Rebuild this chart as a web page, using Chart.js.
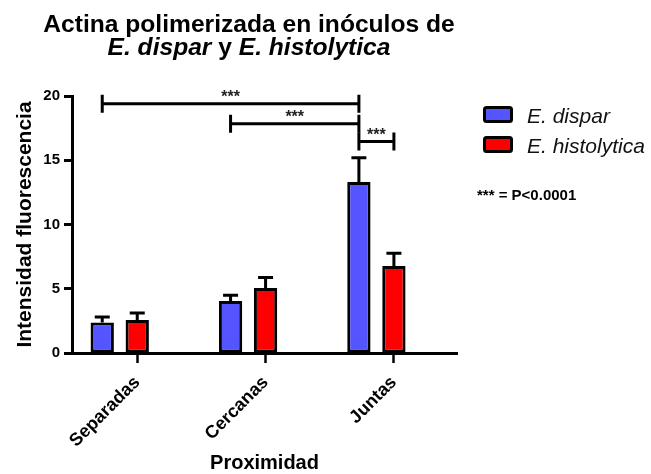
<!DOCTYPE html>
<html>
<head>
<meta charset="utf-8">
<script src="https://cdn.jsdelivr.net/npm/chart.js@4/dist/chart.umd.min.js"></script>
<style>
  html, body { margin: 0; padding: 0; background: #fff; }
  canvas { display: block; }
</style>
</head>
<body>
<canvas id="chart" width="651" height="474"></canvas>
<script>
// ---- data ----
const categories = ['Separadas', 'Cercanas', 'Juntas'];
const seriesNames = ['E. dispar', 'E. histolytica'];
const disparMean = [2.37, 4.05, 13.3];
const disparSem = [0.43, 0.44, 1.9];
const histolyticaMean = [2.57, 5.06, 6.77];
const histolyticaSem = [0.54, 0.81, 0.99];
const yTicks = [0, 5, 10, 15, 20];

// significance brackets: [category, series] at each end, height in y units
const bracketFrom = [[0, 0], [1, 0], [2, 0]];
const bracketTo = [[2, 0], [2, 0], [2, 1]];
const bracketLevel = [19.4, 17.85, 16.45];
const bracketLabel = ['***', '***', '***'];

const titleLine1 = 'Actina polimerizada en inóculos de';
const titleLine2 = [['E. dispar', true], [' y ', false], ['E. histolytica', true]];
const pNote = '*** = P<0.0001';
const yTitle = 'Intensidad fluorescencia';
const xTitle = 'Proximidad';

// ---- styling ----
const FONT = '"Liberation Sans", Arial, Helvetica, sans-serif';
const COLORS = ['#5555ff', '#ff0000'];
const sems = [disparSem, histolyticaSem];
const means = [disparMean, histolyticaMean];
const TICK_SHIFT = 0.136;   // category tick sits under the second bar of each group

Chart.defaults.font.family = FONT;
Chart.defaults.color = '#000';

// upward SEM whiskers on each bar
const errorBars = {
  id: 'errorBars',
  afterDatasetsDraw(chart) {
    const ctx = chart.ctx;
    const y = chart.scales.y;
    chart.data.datasets.forEach((ds, di) => {
      chart.getDatasetMeta(di).data.forEach((bar, i) => {
        const top = y.getPixelForValue(means[di][i] + sems[di][i]);
        ctx.save();
        ctx.strokeStyle = '#000';
        ctx.lineWidth = 3;
        ctx.beginPath();
        ctx.moveTo(bar.x, bar.y);
        ctx.lineTo(bar.x, top);
        ctx.moveTo(bar.x - 7.5, top);
        ctx.lineTo(bar.x + 7.5, top);
        ctx.stroke();
        ctx.restore();
      });
    });
  }
};

// significance brackets with their stars
const brackets = {
  id: 'brackets',
  afterDatasetsDraw(chart) {
    const ctx = chart.ctx;
    const y = chart.scales.y;
    ctx.save();
    ctx.strokeStyle = '#000';
    ctx.fillStyle = '#222';
    ctx.lineWidth = 3;
    bracketLevel.forEach((lvl, k) => {
      const [c0, s0] = bracketFrom[k];
      const [c1, s1] = bracketTo[k];
      const x0 = chart.getDatasetMeta(s0).data[c0].x;
      const x1 = chart.getDatasetMeta(s1).data[c1].x;
      const py = y.getPixelForValue(lvl);
      ctx.beginPath();
      ctx.moveTo(x0, py - 9); ctx.lineTo(x0, py + 9);
      ctx.moveTo(x1, py - 9); ctx.lineTo(x1, py + 9);
      ctx.moveTo(x0, py); ctx.lineTo(x1, py);
      ctx.stroke();
      ctx.font = 'bold 16px ' + FONT;
      ctx.textAlign = 'center';
      ctx.textBaseline = 'alphabetic';
      ctx.fillText(bracketLabel[k], (x0 + x1) / 2, py - 2);
    });
    ctx.restore();
  }
};

// series key to the right of the plot
const seriesKey = {
  id: 'seriesKey',
  afterDraw(chart) {
    const ctx = chart.ctx;
    ctx.save();
    chart.data.datasets.forEach((ds, i) => {
      const top = 107.5 + i * 30;
      ctx.beginPath();
      ctx.roundRect(484.5, top, 27, 14, 2);
      ctx.fillStyle = ds.backgroundColor;
      ctx.fill();
      ctx.lineWidth = 3;
      ctx.strokeStyle = '#000';
      ctx.stroke();
      ctx.fillStyle = '#111';
      ctx.font = 'italic 21px ' + FONT;
      ctx.textAlign = 'left';
      ctx.textBaseline = 'alphabetic';
      ctx.fillText(ds.label, 527, top + 15.5);
    });
    ctx.font = 'bold 15px ' + FONT;
    ctx.fillStyle = '#000';
    ctx.textBaseline = 'middle';
    ctx.fillText(pNote, 477, 196);
    ctx.restore();
  }
};

// two-line heading with the species names in italics
const heading = {
  id: 'heading',
  afterDraw(chart) {
    const ctx = chart.ctx;
    const cx = 249;
    ctx.save();
    ctx.fillStyle = '#000';
    ctx.textBaseline = 'alphabetic';
    ctx.font = 'bold 24.6px ' + FONT;
    ctx.textAlign = 'center';
    ctx.fillText(titleLine1, cx, 32);

    ctx.textAlign = 'left';
    const fontOf = it => (it ? 'italic ' : '') + 'bold 24.6px ' + FONT;
    let total = 0;
    titleLine2.forEach(([t, it]) => { ctx.font = fontOf(it); total += ctx.measureText(t).width; });
    let x = cx - total / 2;
    titleLine2.forEach(([t, it]) => {
      ctx.font = fontOf(it);
      ctx.fillText(t, x, 54.5);
      x += ctx.measureText(t).width;
    });
    ctx.restore();
  }
};

new Chart(document.getElementById('chart'), {
  type: 'bar',
  data: {
    datasets: seriesNames.map((name, di) => ({
      label: name,
      data: means[di].map((v, i) => ({ x: i, y: v })),
      backgroundColor: COLORS[di],
      borderColor: '#000',
      borderWidth: 3,
      borderSkipped: false,
      categoryPercentage: 0.5456,
      barPercentage: 0.666
    }))
  },
  options: {
    responsive: false,
    devicePixelRatio: 1,
    animation: false,
    layout: { padding: { top: 96, left: 6, right: 194, bottom: 0 } },
    plugins: {
      title: { display: false },
      tooltip: { enabled: false },
      legend: { display: false }
    },
    scales: {
      x: {
        type: 'linear',
        offset: false,
        min: -0.372,
        max: 2.628,
        afterBuildTicks(s) { s.ticks = categories.map((c, i) => ({ value: i + TICK_SHIFT })); },
        afterFit(s) { s.height = 121; },
        ticks: {
          callback: (v, i) => categories[i],
          minRotation: 45,
          maxRotation: 45,
          autoSkip: false,
          padding: 9,
          color: '#000',
          font: { size: 18, weight: 'bold', family: FONT }
        },
        grid: { offset: false, drawOnChartArea: false, drawTicks: true, tickLength: 10, tickWidth: 2.5, tickColor: '#000' },
        border: { display: true, color: '#000', width: 3 },
        title: {
          display: true,
          text: xTitle,
          color: '#000',
          padding: { top: 0, bottom: 1 },
          font: { size: 20, weight: 'bold', lineHeight: 1, family: FONT }
        }
      },
      y: {
        type: 'linear',
        min: 0,
        max: 20,
        afterBuildTicks(s) { s.ticks = yTicks.map(v => ({ value: v })); },
        afterFit(s) { s.width = 66; },
        ticks: {
          padding: 4,
          color: '#000',
          font: { size: 15, weight: 'bold', family: FONT }
        },
        grid: { drawOnChartArea: false, drawTicks: true, tickLength: 8, tickWidth: 3, tickColor: '#000' },
        border: { display: true, color: '#000', width: 3 },
        title: {
          display: true,
          text: yTitle,
          color: '#000',
          padding: { top: 7, bottom: 0 },
          font: { size: 21, weight: 'bold', lineHeight: 1.2, family: FONT }
        }
      }
    }
  },
  plugins: [errorBars, brackets, seriesKey, heading]
});
</script>
</body>
</html>
